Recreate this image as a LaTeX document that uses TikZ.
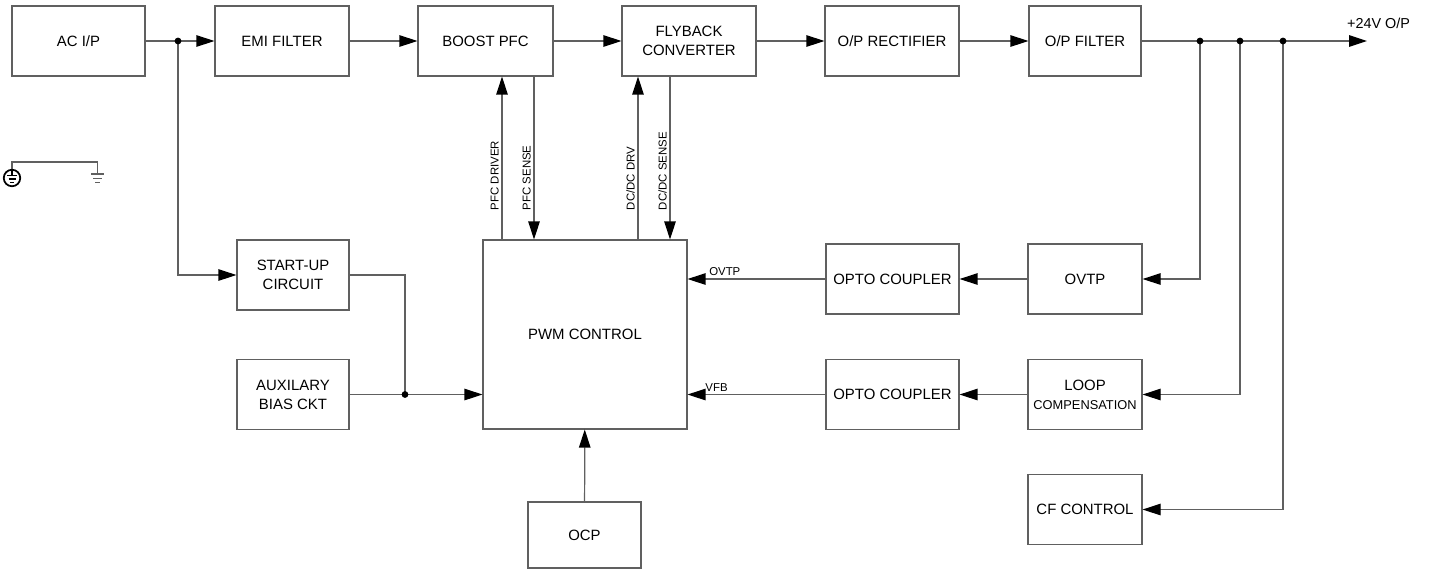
\documentclass[tikz,border=0pt]{standalone}
\usepackage{fontspec}
\setmainfont{Liberation Sans}
\usetikzlibrary{arrows.meta}

\definecolor{wirec}{HTML}{606060}

\tikzset{
  blk/.style={draw=wirec, line width=0.7pt, minimum height=1.4cm, inner sep=0pt, align=center, font=\fontsize{8.5}{10.8}\selectfont},
  sig/.style={font=\fontsize{6.5}{7}\selectfont, inner sep=1.5pt},
  ln/.style={draw=wirec, line width=0.7pt},
  arr/.style={ln, -{Triangle[length=3.6mm,width=2.3mm,color=black]}}
}

\begin{document}
\begin{tikzpicture}[x=0.02cm,y=-0.02cm]
\useasboundingbox (0,0) rectangle (1429,572);

\node[blk, minimum width=2.66cm] (ac) at (78.5,41) {AC I/P};
\node[blk, minimum width=2.68cm] (emi) at (282,41) {EMI FILTER};
\node[blk, minimum width=2.70cm] (pfc) at (485.5,41) {BOOST PFC};
\node[blk, minimum width=2.68cm] (fly) at (689,41) {FLYBACK\\CONVERTER};
\node[blk, minimum width=2.68cm] (rect) at (892,41) {O/P RECTIFIER};
\node[blk, minimum width=2.24cm] (filt) at (1085,41) {O/P FILTER};

\node[blk, minimum width=2.24cm] (start) at (293,275) {START-UP\\CIRCUIT};
\node[blk, minimum width=2.24cm] (aux) at (293,394.5) {AUXILARY\\BIAS CKT};
\node[blk, minimum width=4.08cm, minimum height=3.78cm] (pwm) at (585,334.5) {PWM CONTROL};
\node[blk, minimum width=2.26cm, minimum height=1.32cm] (ocp) at (584.5,535) {OCP};

\node[blk, minimum width=2.66cm] (opto1) at (892.5,279) {OPTO COUPLER};
\node[blk, minimum width=2.28cm] (ovtp) at (1085,279) {OVTP};
\node[blk, minimum width=2.66cm] (opto2) at (892.5,394.5) {OPTO COUPLER};
\node[blk, minimum width=2.28cm] (loop) at (1085,394.5) {LOOP\\{\fontsize{7.3}{8}\selectfont COMPENSATION}};
\node[blk, minimum width=2.28cm] (cf) at (1085,509.5) {CF CONTROL};

\coordinate (j1) at (178,41);
\coordinate (j2) at (405,394.5);
\coordinate (j3) at (1200,41);
\coordinate (j4) at (1240,41);
\coordinate (j5) at (1283,41);
\coordinate (vout) at (1367,41);
\coordinate (pd) at (502,0);
\coordinate (ps) at (534,0);
\coordinate (dd) at (638,0);
\coordinate (ds) at (670,0);

\draw[arr] (ac) -- (emi);
\draw[arr] (emi) -- (pfc);
\draw[arr] (pfc) -- (fly);
\draw[arr] (fly) -- (rect);
\draw[arr] (rect) -- (filt);
\draw[arr] (filt) -- (vout);
\node[font=\fontsize{8.2}{9}\selectfont, inner sep=0pt] (vlbl) at (1378.5,23) {+24V O/P};

\draw[arr] (j1) |- (start);
\draw[ln] (start) -| (j2);
\draw[arr] (aux) -- (aux -| pwm.west);
\draw[arr] (ocp) -- (pwm);

\draw[arr] (pd |- pwm.north) -- node[sig, pos=0.16, rotate=90, anchor=south west] (lpd) {PFC DRIVER} (pd |- pfc.south);
\draw[arr] (ps |- pfc.south) -- node[sig, pos=0.84, rotate=90, anchor=south west] (lps) {PFC SENSE} (ps |- pwm.north);
\draw[arr] (dd |- pwm.north) -- node[sig, pos=0.16, rotate=90, anchor=south west] (ldd) {DC/DC DRV} (dd |- fly.south);
\draw[arr] (ds |- fly.south) -- node[sig, pos=0.84, rotate=90, anchor=south west] (lds) {DC/DC SENSE} (ds |- pwm.north);

\draw[arr] (j3) |- (ovtp);
\draw[arr] (j4) |- (loop);
\draw[arr] (j5) |- (cf);
\draw[arr] (ovtp) -- (opto1);
\draw[arr] (loop) -- (opto2);
\draw[arr] (opto1) -- node[sig, pos=0.73, above] (lov) {OVTP} (opto1 -| pwm.east);
\draw[arr] (opto2) -- node[sig, pos=0.79, above] (lvfb) {VFB} (opto2 -| pwm.east);

\foreach \j in {j1,j2,j3,j4,j5}
  \fill (\j) circle[radius=0.068cm];

\draw[ln] (12,170) -- (12,162) -- (97.5,162) -- (97.5,174);
\draw[ln] (91,174) -- (104,174) (93,178.3) -- (102,178.3) (95,182.3) -- (100,182.3);
\draw[line width=1pt] (12,178) circle[radius=0.165cm];
\draw[line width=0.7pt] (12,170) -- (12,175.5) (7,175.5) -- (17,175.5) (8.5,179) -- (15.5,179) (10,182.5) -- (14,182.5);
\end{tikzpicture}
\end{document}
